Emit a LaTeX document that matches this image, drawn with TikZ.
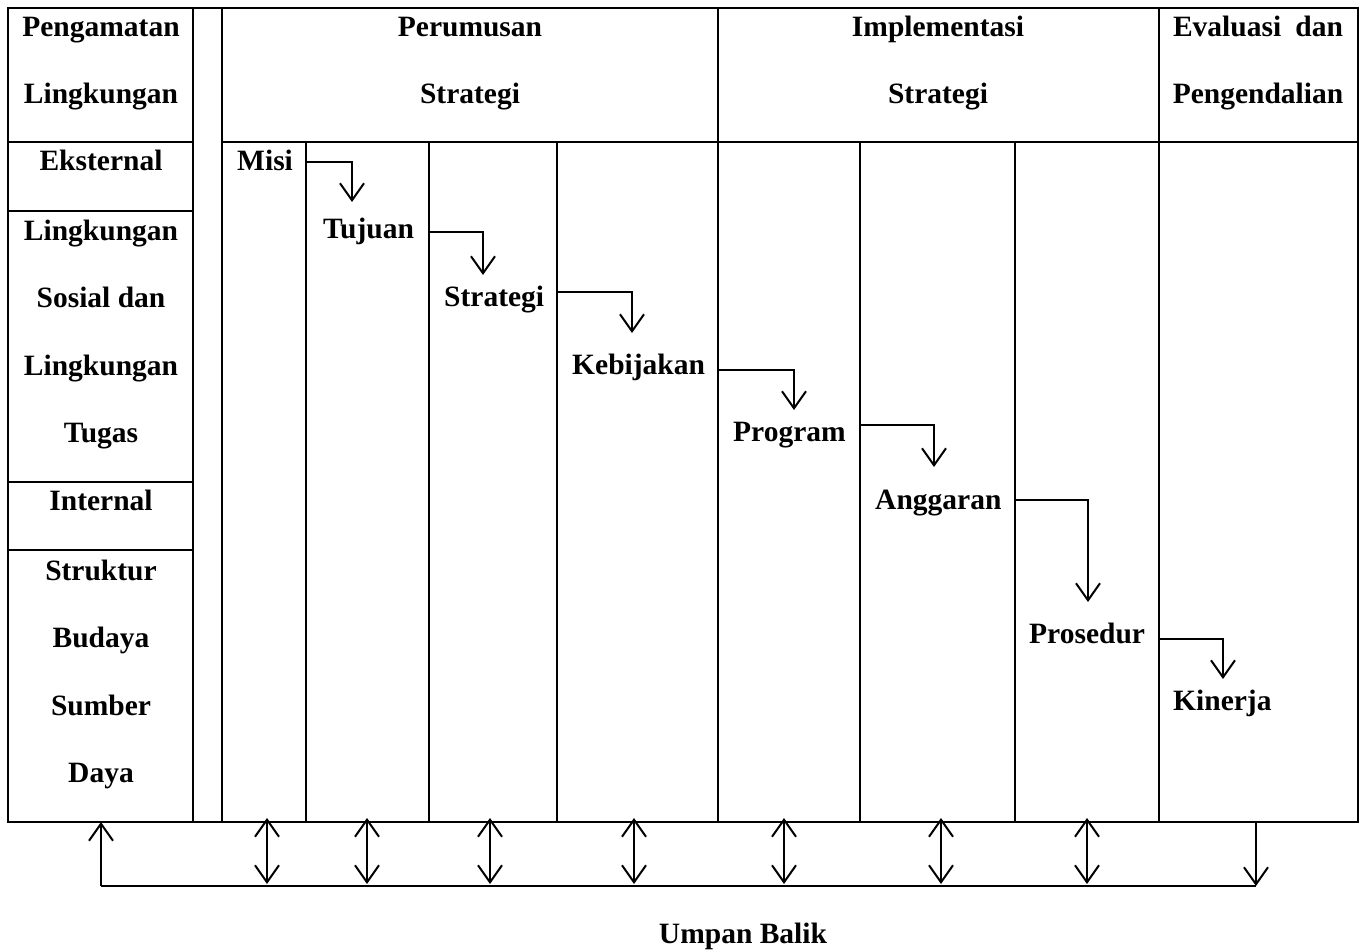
\documentclass[tikz,border=0pt]{standalone}
\usepackage{fontspec}
\setmainfont{Liberation Serif}
\usetikzlibrary{arrows.meta}
\begin{document}
\begin{tikzpicture}[x=1pt,y=-1pt,
  grid/.style={line width=2pt, line cap=rect},
  lbl/.style={font=\bfseries\fontsize{29.5}{34}\selectfont, inner sep=0pt, anchor=base},
  proc/.style={lbl, anchor=base west},
  barb/.tip={Straight Barb[length=17pt,width=24pt,line width=2pt]},
  arr/.style={line width=2pt, -barb},
  darr/.style={line width=2pt, barb-barb}]
\useasboundingbox (0,0) rectangle (1363,951);

% table frame
\draw[grid] (8,8) rectangle (1358,822);
\draw[grid] (8,142) -- (193,142);
\draw[grid] (222,142) -- (1358,142);
\foreach \x in {193,222,718,1159} \draw[grid] (\x,8) -- (\x,822);
\foreach \x in {306,429,557,860,1015} \draw[grid] (\x,142) -- (\x,822);
\foreach \y in {211,482,550} \draw[grid] (8,\y) -- (193,\y);

% left column texts
\node[lbl] (l1) at (101,36) {Pengamatan};
\node[lbl] (l2) at (101,103) {Lingkungan};
\node[lbl] (l3) at (101,170) {Eksternal};
\node[lbl] (l4) at (101,240) {Lingkungan};
\node[lbl] (l5) at (101,307) {Sosial dan};
\node[lbl] (l6) at (101,375) {Lingkungan};
\node[lbl] (l7) at (101,442) {Tugas};
\node[lbl] (l8) at (101,510) {Internal};
\node[lbl] (l9) at (101,580) {Struktur};
\node[lbl] (l10) at (101,647) {Budaya};
\node[lbl] (l11) at (101,715) {Sumber};
\node[lbl] (l12) at (101,782) {Daya};

% headers
\node[lbl] (h1) at (470,36) {Perumusan};
\node[lbl] (h2) at (470,103) {Strategi};
\node[lbl] (h3) at (938,36) {Implementasi};
\node[lbl] (h4) at (938,103) {Strategi};
\node[lbl] (h5) at (1258,36) {\makebox[170pt][s]{Evaluasi dan}};
\node[lbl] (h6) at (1258,103) {Pengendalian};

% process steps
\node[proc] (misi) at (237,170) {Misi};
\node[proc] (tujuan) at (323,238) {Tujuan};
\node[proc] (strategi) at (444,306) {Strategi};
\node[proc] (kebijakan) at (572,374) {Kebijakan};
\node[proc] (program) at (733,441) {Program};
\node[proc] (anggaran) at (875,509) {Anggaran};
\node[proc] (prosedur) at (1029,643) {Prosedur};
\node[proc] (kinerja) at (1173,710) {Kinerja};

% step connectors
\coordinate (s1) at (306,162);  \coordinate (e1) at (352,202);
\coordinate (s2) at (429,232);  \coordinate (e2) at (483,275);
\coordinate (s3) at (557,292);  \coordinate (e3) at (632,333);
\coordinate (s4) at (718,370);  \coordinate (e4) at (794,410);
\coordinate (s5) at (860,425);  \coordinate (e5) at (934,467);
\coordinate (s6) at (1015,500); \coordinate (e6) at (1088,602);
\coordinate (s7) at (1159,639); \coordinate (e7) at (1223,679);
\foreach \i in {1,...,7} \draw[arr] (s\i) -| (e\i);

% feedback
\coordinate (fbL) at (101,886);
\coordinate (fbR) at (1256,886);
\draw[line width=2pt] (fbL) -- (fbR);
\coordinate (fbLtop) at (101,822);
\draw[arr] (fbL) -- (fbLtop);
\foreach \x [count=\k] in {267,367,490,634,784,941,1087} {
  \coordinate (bt\k) at (\x,818);
  \coordinate (bb\k) at (\x,884);
  \draw[darr] (bt\k) -- (bb\k);
}
\coordinate (fbRtop) at (1256,822);
\draw[arr] (fbRtop) -- (fbR);

\node[lbl] (umpan) at (743,943) {Umpan Balik};
\end{tikzpicture}
\end{document}
